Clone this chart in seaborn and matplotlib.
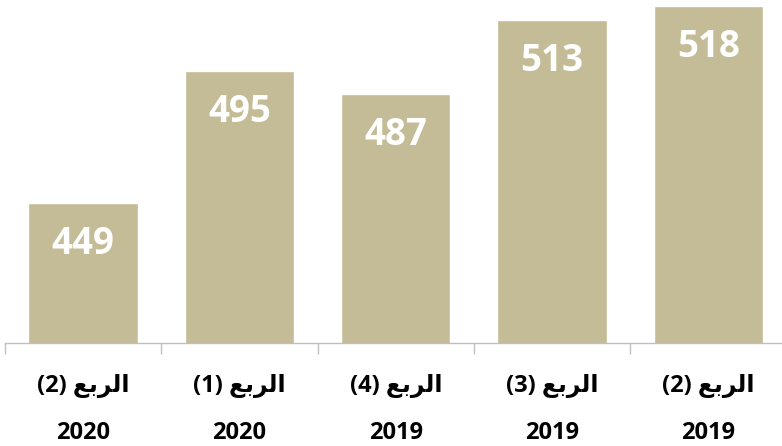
import matplotlib
matplotlib.use("Agg")
import matplotlib.pyplot as plt
import seaborn as sns
import pandas as pd

# Quarter label (Arabic "الربع" with quarter number) and year, left to right as shown
quarters = ["2", "1", "4", "3", "2"]
years = ["2020", "2020", "2019", "2019", "2019"]
values = [449, 495, 487, 513, 518]

# "الربع" shaped into Arabic presentation forms, in visual (left-to-right) order
RUBU = "\uFECA\uFE91\uFEAE\uFEDF\uFE8D"
cats = [f"({q}) {RUBU}\n{y}" for q, y in zip(quarters, years)]

df = pd.DataFrame({"cat": cats, "value": values})

sns.set_theme(style="white")
plt.rcParams["font.family"] = ["Open Sans", "DejaVu Sans"]

fig = plt.figure(figsize=(7.82, 4.46), dpi=100)
ax = fig.add_axes([5 / 782, 1 - 343 / 446, 781.5 / 782, 343 / 446])

sns.barplot(data=df, x="cat", y="value", order=cats, color="#C4BC96",
            saturation=1, width=0.7, ax=ax)

ax.set_ylim(400, 520)
ax.set_xlim(-0.5, len(cats) - 0.5)
ax.set_xlabel("")
ax.set_ylabel("")
ax.set_yticks([])
for s in ["top", "right", "left"]:
    ax.spines[s].set_visible(False)
ax.spines["bottom"].set_color("#BFBFBF")
ax.spines["bottom"].set_linewidth(1.0)

ax.set_xticks(range(len(cats)))
ax.set_xticklabels(cats, fontsize=17, fontweight="bold", color="black",
                   linespacing=2.3)
ax.set_xticks([i - 0.5 for i in range(len(cats) + 1)], minor=True)
ax.tick_params(axis="x", which="major", length=0, pad=22)
ax.tick_params(axis="x", which="minor", length=8, color="#BFBFBF", width=1.0,
               direction="out", bottom=True)

for i, v in enumerate(values):
    ax.annotate(f"{v}", xy=(i, v), xytext=(0, -29.5), textcoords="offset points",
                ha="center", va="center", color="white", fontsize=26.5,
                fontweight="bold")

fig.savefig("out.png", dpi=100)
